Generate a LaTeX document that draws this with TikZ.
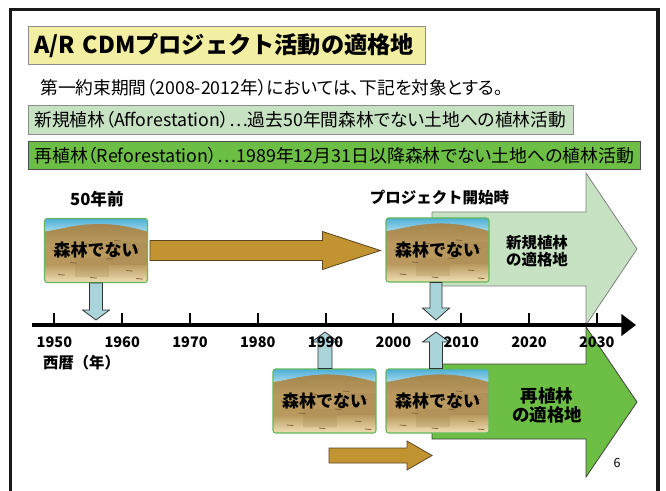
\documentclass[tikz,border=0pt]{standalone}
\usepackage{fontspec}
\setmainfont{Noto Sans CJK JP}
\usetikzlibrary{calc,arrows.meta}

\definecolor{titleyellow}{HTML}{F3EFA2}
\definecolor{palegreen}{HTML}{C6E2C2}
\definecolor{leafgreen}{HTML}{6CBE45}
\definecolor{ochre}{HTML}{C29431}
\definecolor{ochreedge}{HTML}{5A4520}
\definecolor{iceblue}{HTML}{A9D5DA}
\definecolor{skytop}{HTML}{4DAFD8}
\definecolor{skylow}{HTML}{A4D9EA}
\definecolor{soilA}{HTML}{A3844C}
\definecolor{soilB}{HTML}{B9995E}
\definecolor{soilC}{HTML}{F0E0B6}
\definecolor{soilmark}{HTML}{85663A}
\definecolor{landedge}{HTML}{62B85A}

\newcommand\fsz[1]{\fontsize{#1}{#1}\selectfont}
% proportional CJK metrics for running text
\newcommand\prop{\addfontfeature{RawFeature=+palt}}

% horizontal block arrow: style, start, tip, shaft half, head half, head length (px)
\newcommand\harr[6]{\draw[#1] let \p1=#2, \p2=#3 in
  (\x1,{\y1+#4*0.75pt}) -- ({\x2-#6*0.75pt},{\y1+#4*0.75pt})
  -- ({\x2-#6*0.75pt},{\y1+#5*0.75pt}) -- (\x2,\y1)
  -- ({\x2-#6*0.75pt},{\y1-#5*0.75pt}) -- ({\x2-#6*0.75pt},{\y1-#4*0.75pt})
  -- (\x1,{\y1-#4*0.75pt}) -- cycle;}
% vertical block arrow: style, start, tip, shaft half, head half, signed head length (px)
\newcommand\varr[6]{\draw[#1] let \p1=#2, \p2=#3 in
  ({\x2-#4*0.75pt},\y1) -- ({\x2-#4*0.75pt},{\y2+#6*0.75pt})
  -- ({\x2-#5*0.75pt},{\y2+#6*0.75pt}) -- (\x2,\y2)
  -- ({\x2+#5*0.75pt},{\y2+#6*0.75pt}) -- ({\x2+#4*0.75pt},{\y2+#6*0.75pt})
  -- ({\x2+#4*0.75pt},\y1) -- cycle;}

% bare land scene (103 x 64 px) centred on the given point
\newcommand\landscene[1]{%
  \begin{scope}[shift={(#1)}]
  \begin{scope}[shift={(-51.5,-32)}]
    \clip[rounded corners=2pt] (0,0) rectangle (103,64);
    \fill[soilB] (0,0) rectangle (103,64);
    \shade[top color=soilA, bottom color=soilB] (0,4) rectangle (103,26);
    \shade[top color=soilB, bottom color=soilC] (0,46) rectangle (103,64);
    \fill[soilA, opacity=0.35] (64,24) rectangle (103,46);
    \fill[soilA, opacity=0.25] (30,40) rectangle (64,58);
    \shade[top color=skytop, bottom color=skylow]
      (0,0) -- (103,0) -- (103,13) .. controls (85,8) and (70,5) .. (50,5.5)
      .. controls (30,6) and (15,11) .. (0,13) -- cycle;
    \foreach \a/\b in {8/32,26/44,62/40,82/52,14/56,46/59,88/30,70/22,38/25,92/60}
      \draw[soilmark, line width=0.6pt, line cap=round] (\a,\b) -- ++(6,0.6);
  \end{scope}
  \end{scope}}

\tikzset{
  frame/.style={draw=black!90, line width=2.3pt},
  bannerbox/.style={draw=black!45, line width=0.6pt, inner ysep=0pt, align=left, anchor=north west},
  plain/.style={inner sep=0pt},
  land/.style={rectangle, rounded corners=2pt, minimum width=77.25pt, minimum height=48pt,
    inner sep=0pt, draw=landedge, line width=0.8pt, font=\bfseries\fsz{12.75pt}},
  ochrearrow/.style={fill=ochre, draw=ochreedge, line width=0.6pt},
  icearrow/.style={fill=iceblue, draw=black!80, line width=0.6pt},
  palearrow/.style={fill=palegreen, draw=black!50, line width=0.6pt},
  leafarrow/.style={fill=leafgreen, draw=black!75, line width=0.6pt},
  timeaxis/.style={line width=2.6pt, -{Triangle[length=11pt,width=16pt]}},
  tickmark/.style={line width=1.5pt},
  yearlab/.style={inner sep=0pt, font=\bfseries\fsz{10.9pt}},
}

\begin{document}
\begin{tikzpicture}[x=0.75pt, y=-0.75pt]
\useasboundingbox (0,0) rectangle (666,491);

% slide frame
\draw[frame] (10.5,491) -- (10.5,9.5) -- (658,9.5) -- (658,491);

% heading and definitions
\node[bannerbox, fill=titleyellow, minimum width=298pt, minimum height=28.5pt,
      inner xsep=4.8pt, text width=288.4pt, font=\bfseries\fsz{17.4pt}]
  (title) at (27.6,26) {A/R CDMプロジェクト活動の適格地};
\node[plain, anchor=west, font=\fsz{13.3pt}\prop] (period) at (40,88)
  {第一約束期間（2008-2012年）においては、下記を対象とする。};
\node[bannerbox, fill=palegreen, minimum width=409pt, minimum height=21.75pt,
      inner xsep=4.8pt, text width=399.4pt, font=\fsz{13.3pt}\prop]
  (aff) at (27.6,105) {新規植林（Afforestation）…過去50年間森林でない土地への植林活動};
\node[bannerbox, fill=leafgreen, draw=black!70, minimum width=459.3pt, minimum height=21pt,
      inner xsep=4.8pt, text width=449.7pt, font=\fsz{13.4pt}\prop]
  (ref) at (27.6,141) {再植林（Reforestation）…1989年12月31日以降森林でない土地への植林活動};

% time markers
\node[plain, font=\bfseries\fsz{12.5pt}] (ago) at (97,199) {50年前};
\node[plain, font=\bfseries\fsz{11.6pt}] (start) at (439.5,198) {プロジェクト開始時};

% eligibility arrows
\draw[palearrow] (432,212) -- (586,212) -- (586,173) -- (637,249) -- (586,325)
  -- (586,286) -- (432,286) -- cycle;
\draw[leafarrow] (432,364) -- (586,364) -- (586,327) -- (637,402) -- (586,477)
  -- (586,439) -- (432,439) -- cycle;
\node[plain, align=center, font=\bfseries\fsz{11.6pt}]
  (afflab) at (537,251.5) {新規植林\\[1pt]の適格地};
\node[plain, align=center, font=\bfseries\fsz{13.1pt}]
  (reflab) at (547,405.5) {再植林\\[1pt]の適格地};

% land without forest
\landscene{96,250.5}
\landscene{437.5,250}
\landscene{324.5,401}
\landscene{437.5,401}
\node[land] (p1) at (96,250.5) {森林でない};
\node[land] (p2) at (437.5,250) {森林でない};
\node[land] (p3) at (324.5,401) {森林でない};
\node[land] (p4) at (437.5,401) {森林でない};

% continuity arrows
\coordinate (b2s) at (329,455.5);
\coordinate (b2t) at (432,455.5);
\harr{ochrearrow}{($(p1.east)+(2,0)$)}{($(p2.west)+(-5,0)$)}{10}{19}{58}
\harr{ochrearrow}{(b2s)}{(b2t)}{7.5}{14.5}{25}

% time axis
\coordinate (axL) at (32,325);
\coordinate (axR) at (636,325);
\draw[timeaxis] (axL) -- (axR);
\foreach \i in {0,...,8}
  \draw[tickmark] ({54.4+67.8*\i},325) -- ({54.4+67.8*\i},313);

% links between the scenes and the axis
\coordinate (d1) at (96,320);
\coordinate (d2) at (436,320);
\coordinate (u1) at (325,332);
\coordinate (u2) at (436,332);
\varr{icearrow}{(p1.south)}{(d1)}{6.5}{13.5}{10}
\varr{icearrow}{(p2.south -| d2)}{(d2)}{6}{13.5}{12}
\varr{icearrow}{(p3.north -| u1)}{(u1)}{7}{13.5}{(-10)}
\varr{icearrow}{(p4.north -| u2)}{(u2)}{6.5}{13.5}{(-10)}

% year labels, printed over the arrows
\foreach \i in {0,...,8} {
  \pgfmathtruncatemacro\yr{1950+10*\i}
  \node[yearlab] (yr\i) at ({54.4+67.8*\i},342) {\yr};
}
\node[plain, font=\bfseries\fsz{11.5pt}] (era) at (81.5,363) {西暦（年）};

% page number
\node[plain, font=\fsz{9.4pt}] (page) at (617,463) {6};
\end{tikzpicture}
\end{document}
